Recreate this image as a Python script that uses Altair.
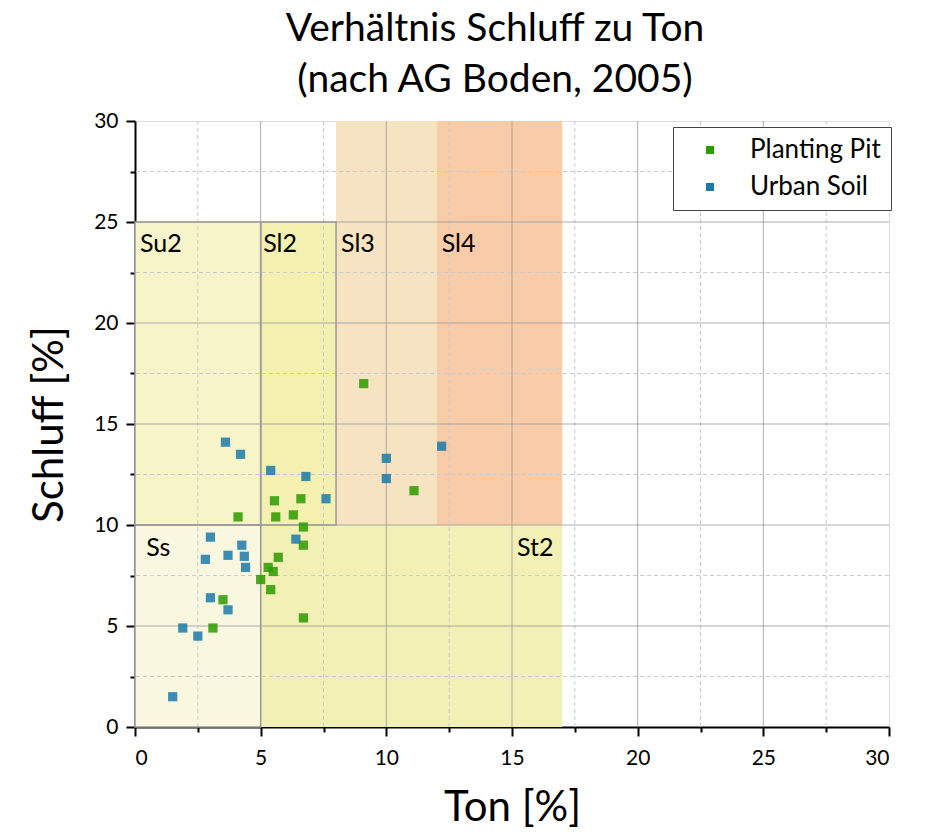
import altair as alt
import pandas as pd

# --- Soil texture classes (AG Boden, 2005) ---
region_names = ["Ss", "Su2", "Sl2", "Sl3", "Sl4", "St2"]
region_ton_min = [0, 0, 5, 8, 12, 5]
region_ton_max = [5, 5, 8, 12, 17, 17]
region_schluff_min = [0, 10, 10, 10, 10, 0]
region_schluff_max = [10, 25, 25, 30, 30, 10]
region_colors = ["#faf7e1", "#f8f4ca", "#f3f0b0", "#f6e3c1", "#f8cba9", "#f3f0b5"]
region_outlined = ["Ss", "Su2", "Sl2"]

# --- class labels ---
label_text = ["Su2", "Sl2", "Sl3", "Sl4", "Ss", "St2"]
label_ton = [0.2, 5.1, 8.2, 12.2, 0.45, 15.2]
label_schluff = [23.9, 23.9, 23.9, 23.9, 8.85, 8.85]

# --- samples ---
pit_ton = [9.1, 11.1, 5.55, 6.6, 5.6, 6.3, 4.1, 6.7, 6.7, 5.7, 5.3, 5.5, 5.0, 5.4, 3.5, 3.1, 6.7]
pit_schluff = [17.0, 11.7, 11.2, 11.3, 10.4, 10.5, 10.4, 9.9, 9.0, 8.4, 7.9, 7.7, 7.3, 6.8, 6.3, 4.9, 5.4]
urban_ton = [3.6, 4.2, 5.4, 6.8, 7.6, 10.0, 10.0, 12.2, 6.4, 3.0, 4.25, 2.8, 3.7, 4.35, 4.4, 3.0, 3.7, 1.9, 2.5, 1.5]
urban_schluff = [14.1, 13.5, 12.7, 12.4, 11.3, 13.3, 12.3, 13.9, 9.3, 9.4, 9.0, 8.3, 8.5, 8.45, 7.9, 6.4, 5.8, 4.9, 4.5, 1.5]

groups = ["Planting Pit", "Urban Soil"]
group_colors = ["#2c9a00", "#1a7aa8"]

# --- axis ticks ---
all_ticks = [0, 2.5, 5, 7.5, 10, 12.5, 15, 17.5, 20, 22.5, 25, 27.5, 30]
major_grid = [5, 10, 15, 20, 25]
minor_grid = [2.5, 7.5, 12.5, 17.5, 22.5, 27.5]

regions = pd.DataFrame({
    "name": region_names,
    "x1": region_ton_min, "x2": region_ton_max,
    "y1": region_schluff_min, "y2": region_schluff_max,
})
outlines = regions[regions["name"].isin(region_outlined)]
labels = pd.DataFrame({"text": label_text, "x": label_ton, "y": label_schluff})
points = pd.DataFrame({
    "ton": pit_ton + urban_ton,
    "schluff": pit_schluff + urban_schluff,
    "group": [groups[0]] * len(pit_ton) + [groups[1]] * len(urban_ton),
})
majors = pd.DataFrame({"v": major_grid})
minors = pd.DataFrame({"v": minor_grid})

FONT = "Lato"
xscale = alt.Scale(domain=[0, 30], nice=False, zero=False)
yscale = alt.Scale(domain=[0, 30], nice=False, zero=False)

tick_size = {"condition": {"test": "datum.value % 5 === 0", "value": 9}, "value": 5}
label_expr = "datum.value % 5 === 0 ? format(datum.value, 'd') : ''"

xaxis = alt.Axis(values=all_ticks, labelExpr=label_expr, tickSize=tick_size, grid=False,
                 title="Ton [%]", titleFontSize=42, titleFont=FONT, titleFontWeight="normal",
                 titlePadding=19, labelFontSize=21, labelFont=FONT, labelPadding=11,
                 domainColor="black", domainWidth=2, tickColor="black", tickWidth=2,
                 labelColor="black", titleColor="black")
yaxis = alt.Axis(values=all_ticks, labelExpr=label_expr, tickSize=tick_size, grid=False,
                 title="Schluff [%]", titleFontSize=42, titleFont=FONT, titleFontWeight="normal",
                 titlePadding=22, labelFontSize=21, labelFont=FONT, labelPadding=8,
                 domainColor="black", domainWidth=2, tickColor="black", tickWidth=2,
                 labelColor="black", titleColor="black")

rects = alt.Chart(regions).mark_rect().encode(
    x=alt.X("x1:Q", scale=xscale, axis=xaxis),
    x2="x2:Q",
    y=alt.Y("y1:Q", scale=yscale, axis=yaxis),
    y2="y2:Q",
    color=alt.Color("name:N", scale=alt.Scale(domain=region_names, range=region_colors), legend=None),
)

minor_v = alt.Chart(minors).mark_rule(color="#cacaca", strokeWidth=1, strokeDash=[4, 3]).encode(x=alt.X("v:Q", scale=xscale))
minor_h = alt.Chart(minors).mark_rule(color="#cacaca", strokeWidth=1, strokeDash=[4, 3]).encode(y=alt.Y("v:Q", scale=yscale))
major_v = alt.Chart(majors).mark_rule(color="#9a9a9a", strokeWidth=1, opacity=0.8).encode(x=alt.X("v:Q", scale=xscale))
major_h = alt.Chart(majors).mark_rule(color="#9a9a9a", strokeWidth=1, opacity=0.8).encode(y=alt.Y("v:Q", scale=yscale))

borders = alt.Chart(outlines).mark_rect(fillOpacity=0, stroke="#9a9a9a", strokeWidth=1.5).encode(
    x=alt.X("x1:Q", scale=xscale), x2="x2:Q",
    y=alt.Y("y1:Q", scale=yscale), y2="y2:Q",
)

pts = alt.Chart(points).mark_square(size=85, opacity=0.85).encode(
    x=alt.X("ton:Q", scale=xscale),
    y=alt.Y("schluff:Q", scale=yscale),
    color=alt.Color("group:N", scale=alt.Scale(domain=groups, range=group_colors),
                    legend=alt.Legend(title=None, orient="none", legendX=538, legendY=6,
                                      symbolType="square", symbolSize=64, symbolOpacity=1,
                                      symbolStrokeWidth=0,
                                      labelFontSize=26, labelFont=FONT, labelColor="black",
                                      labelOffset=27, symbolOffset=14, rowPadding=11,
                                      padding=10, strokeColor="#444444", fillColor="white")),
)

texts = alt.Chart(labels).mark_text(align="left", baseline="middle", fontSize=25, font=FONT, color="black").encode(
    x=alt.X("x:Q", scale=xscale),
    y=alt.Y("y:Q", scale=yscale),
    text="text:N",
)

chart = alt.layer(rects, minor_v, minor_h, major_v, major_h, borders, pts, texts).resolve_scale(
    color="independent"
).properties(
    width=754, height=606,
    padding={"left": 135, "top": 121, "right": 39, "bottom": 108},
    autosize=alt.AutoSizeParams(type="none"),
    title=alt.TitleParams(["Verhältnis Schluff zu Ton", "(nach AG Boden, 2005)"], fontSize=39, font=FONT,
                          fontWeight="normal", lineHeight=51, anchor="middle", dx=-17, offset=10,
                          color="black"),
).configure_view(stroke=None).configure(background="white")

chart.save("out.html", embed_options={"renderer": "svg", "actions": False})
